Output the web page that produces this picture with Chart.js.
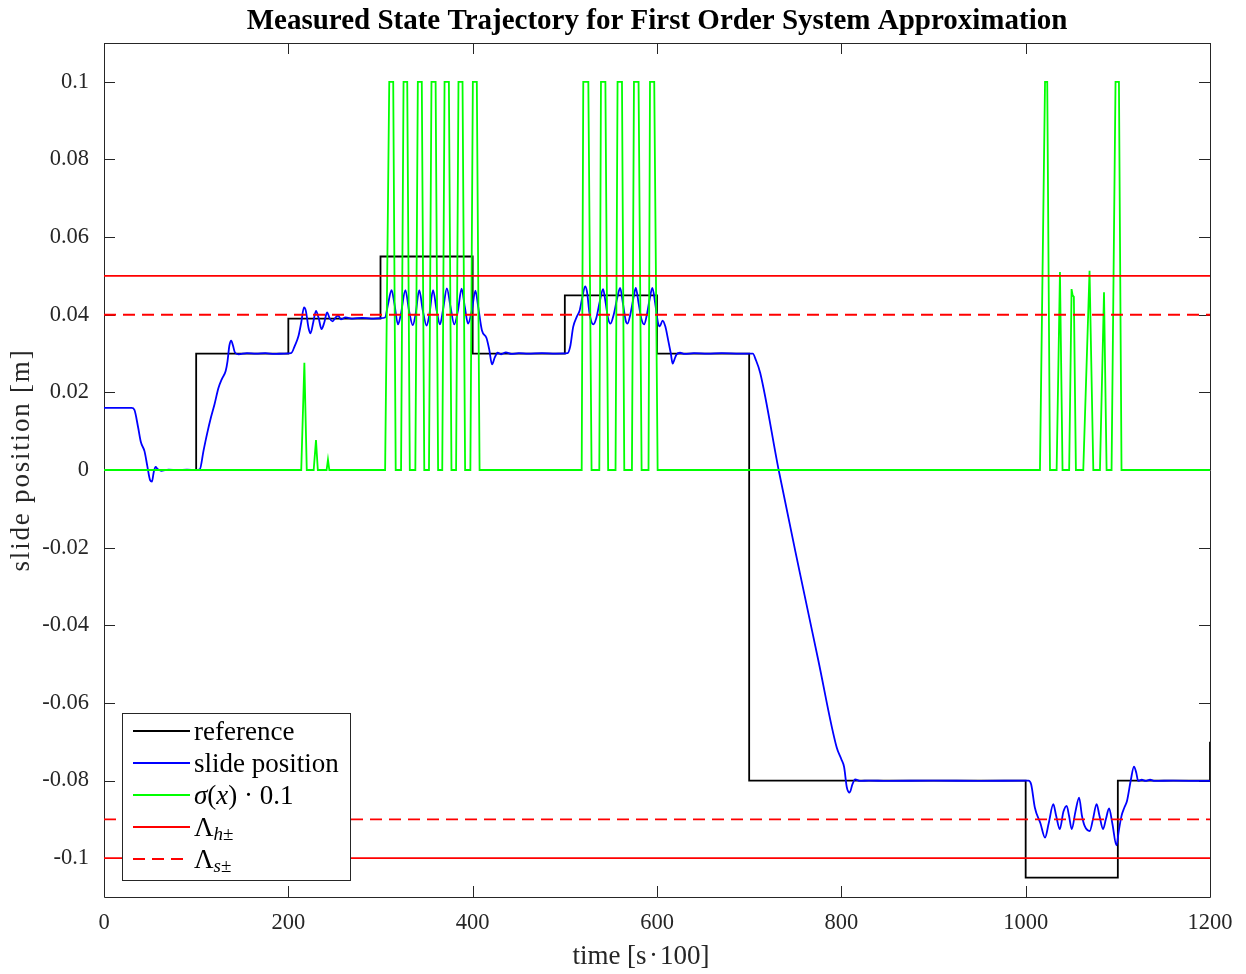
<!DOCTYPE html>
<html>
<head>
<meta charset="utf-8">
<title>Measured State Trajectory</title>
<script src="https://cdn.jsdelivr.net/npm/chart.js@4.4.1/dist/chart.umd.min.js"></script>
<style>
    html, body { margin: 0; padding: 0; background: #fff; }
    #wrap { width: 1246px; height: 974px; }
</style>
</head>
<body>
<div id="wrap"><canvas id="stateChart" width="1246" height="974"></canvas></div>
<script>
// Reference step signal [time, position]
const reference = [
    [0, 0], [100, 0], [100, 0.03], [200, 0.03], [200, 0.039], [300, 0.039],
    [300, 0.055], [400, 0.055], [400, 0.03], [500, 0.03], [500, 0.045], [600, 0.045],
    [600, 0.03], [700, 0.03], [700, -0.08], [1000, -0.08], [1000, -0.105], [1100, -0.105],
    [1100, -0.08], [1200, -0.08], [1200, -0.07]
];

// Measured slide position [time, position]
const slidePosition = [
    [0, 0.016], [30, 0.016], [33, 0.0155], [37, 0.011], [40, 0.0072], [44, 0.0048],
    [47, 0.001], [50, -0.0026], [52, -0.003], [54, -0.0005], [56, 0.0008], [58, 0.0003],
    [62, -0.0002], [70, 0.0001], [80, 0], [90, 0.0001], [100, 0], [104, 0.0002],
    [108, 0.005], [112, 0.0095], [116, 0.0135], [120, 0.017], [124, 0.021], [128, 0.0235],
    [132, 0.0255], [134, 0.028], [136, 0.032], [138, 0.0333], [140, 0.032], [142, 0.0303],
    [146, 0.0298], [155, 0.0301], [165, 0.03], [175, 0.0301], [185, 0.0299], [195, 0.03],
    [203, 0.0301], [207, 0.032], [211, 0.0345], [214, 0.038], [217, 0.0419], [219, 0.041],
    [222, 0.0365], [224, 0.0352], [227, 0.038], [230, 0.041], [233, 0.039], [236, 0.0363],
    [239, 0.038], [242, 0.0406], [245, 0.039], [248, 0.0383], [251, 0.0392], [254, 0.0398],
    [257, 0.0388], [262, 0.0393], [270, 0.039], [280, 0.0392], [290, 0.039], [300, 0.0391],
    [305, 0.0393], [308, 0.0425], [312, 0.0463], [315, 0.043], [319, 0.0375], [322, 0.04],
    [327, 0.0463], [331, 0.041], [335, 0.0373], [338, 0.04], [342, 0.0463], [346, 0.041],
    [350, 0.0372], [353, 0.04], [357, 0.0463], [361, 0.041], [364.5, 0.0375], [368, 0.0415],
    [372, 0.0468], [376, 0.042], [380, 0.0375], [384, 0.041], [388, 0.0467], [391.5, 0.042],
    [395, 0.0377], [399, 0.041], [403, 0.0462], [406, 0.042], [410, 0.036], [415, 0.034],
    [418, 0.031], [421, 0.0272], [424, 0.029], [427, 0.0302], [431, 0.0298], [436, 0.0303],
    [442, 0.0299], [450, 0.0301], [460, 0.03], [475, 0.0301], [490, 0.03], [503, 0.0301],
    [506, 0.032], [509, 0.0368], [513, 0.0395], [516, 0.041], [519, 0.0445], [522, 0.0473],
    [524, 0.046], [527, 0.04], [531, 0.0375], [534, 0.039], [538, 0.0435], [541.5, 0.0466],
    [544, 0.0435], [547, 0.039], [549.5, 0.0377], [553, 0.04], [557, 0.0445], [560, 0.0469],
    [563, 0.043], [566, 0.0385], [568, 0.0377], [571, 0.04], [575, 0.045], [577, 0.0469],
    [580, 0.043], [583, 0.039], [586, 0.0375], [589, 0.04], [592, 0.044], [595, 0.0469],
    [598, 0.043], [601, 0.038], [603, 0.037], [606, 0.0385], [609, 0.037], [612, 0.0336],
    [615, 0.03], [617, 0.0274], [619, 0.0285], [621, 0.0297], [625, 0.0302], [630, 0.0299],
    [640, 0.0301], [655, 0.03], [670, 0.0301], [690, 0.03], [704, 0.03], [707, 0.0285],
    [712, 0.025], [732, 0], [755, -0.0265], [775, -0.049], [795, -0.0715], [800, -0.0745],
    [803, -0.0765], [806, -0.0818], [809, -0.0831], [812, -0.081], [815, -0.0797], [820, -0.0801],
    [830, -0.08], [850, -0.0801], [900, -0.08], [950, -0.0801], [1003, -0.08], [1006, -0.081],
    [1010, -0.087], [1016, -0.091], [1021, -0.0947], [1025, -0.091], [1030, -0.0861], [1033, -0.089],
    [1037, -0.0925], [1041, -0.088], [1044.5, -0.0865], [1047, -0.089], [1050, -0.0925], [1054, -0.088],
    [1058, -0.0844], [1061, -0.089], [1064, -0.0917], [1069.5, -0.093], [1073, -0.09], [1077, -0.0861],
    [1080, -0.089], [1084, -0.0925], [1087, -0.09], [1090.5, -0.0872], [1094, -0.091], [1098.5, -0.0967],
    [1101, -0.093], [1104, -0.0891], [1107, -0.087], [1110, -0.0852], [1114, -0.08], [1117.5, -0.0764],
    [1120, -0.078], [1122, -0.0801], [1126, -0.0798], [1130, -0.0801], [1135, -0.0798], [1140, -0.0801],
    [1160, -0.08], [1200, -0.0801]
];

// Switching function sigma(x) scaled by 0.1 [time, value]
const sigmaScaled = [
    [0, 0], [214, 0], [217.4, 0.0276], [220, 0], [227.5, 0], [230, 0.0077], [232, 0],
    [241.5, 0], [243, 0.0027], [244.5, 0],
    [305, 0], [309.5, 0.1], [313.8, 0.1], [316.5, 0], [322.3, 0], [325, 0.1], [329, 0.1],
    [331.8, 0], [337.8, 0], [340.5, 0.1], [344.8, 0.1], [347.5, 0], [352.6, 0], [355.3, 0.1],
    [359.8, 0.1], [362.5, 0], [367, 0], [369.5, 0.1], [374.2, 0.1], [377, 0], [382, 0],
    [384.6, 0.1], [389, 0.1], [391.8, 0], [397.5, 0], [400.2, 0.1], [404.5, 0.1], [407.5, 0],
    [518.3, 0], [520, 0.1], [525.5, 0.1], [529, 0], [537.4, 0], [539.2, 0.1], [544, 0.1],
    [547, 0], [555, 0], [557.2, 0.1], [562, 0.1], [564.5, 0], [572.8, 0], [575, 0.1],
    [580, 0.1], [583.3, 0], [590.8, 0], [592.4, 0.1], [597, 0.1], [600.7, 0],
    [1015.5, 0], [1021, 0.1], [1023.4, 0.1], [1026.4, 0], [1033.6, 0], [1037.2, 0.051],
    [1040, 0], [1047.2, 0], [1049.8, 0.0466], [1051, 0.045], [1052.3, 0.0446], [1054.5, 0],
    [1062.5, 0], [1069.3, 0.0513], [1073.4, 0], [1080.6, 0], [1085, 0.0458], [1087.8, 0],
    [1093.2, 0], [1097.5, 0.1], [1101.2, 0.1], [1104, 0], [1200, 0]
];

// Hard and soft limits (upper, lower)
const hardLimits = [0.05, -0.1];
const softLimits = [0.04, -0.09];

// Axis ranges and tick values
const timeRange = [0, 1200];
const positionRange = [-0.11, 0.11];
const timeTicks = [0, 200, 400, 600, 800, 1000, 1200];
const positionTicks = [-0.1, -0.08, -0.06, -0.04, -0.02, 0, 0.02, 0.04, 0.06, 0.08, 0.1];

const serif = "'Liberation Serif', 'Times New Roman', serif";
const axisColor = '#262626';

function toPoints(pairs) {
    return pairs.map(([x, y]) => ({ x, y }));
}

function limitLines(levels) {
    const pts = [];
    levels.forEach((level, i) => {
        if (i > 0) pts.push({ x: timeRange[1], y: null });
        pts.push({ x: timeRange[0], y: level }, { x: timeRange[1], y: level });
    });
    return pts;
}

// Title and axis labels, centred on the plot box
const labelsPlugin = {
    id: 'texLabels',
    afterDraw(chart) {
        const { ctx, chartArea: a } = chart;
        const cx = (a.left + a.right) / 2;
        ctx.save();
        ctx.textAlign = 'center';
        ctx.textBaseline = 'middle';

        ctx.fillStyle = '#000';
        ctx.font = 'bold 29px ' + serif;
        ctx.fillText('Measured State Trajectory for First Order System Approximation', cx, 22);

        ctx.fillStyle = axisColor;
        ctx.font = '27px ' + serif;
        ctx.fillText('time [s\u200a·\u200a100]', cx - 16, 957);

        ctx.translate(22, (a.top + a.bottom) / 2 - 10);
        ctx.rotate(-Math.PI / 2);
        ctx.letterSpacing = '1.8px';
        ctx.fillText('slide position [m]', 0, 0);
        ctx.restore();
    }
};

// Box with inward ticks on all four sides (MATLAB style), under the data
const framePlugin = {
    id: 'frame',
    beforeDatasetsDraw(chart) {
        const { ctx, chartArea: a, scales } = chart;
        const len = 11;
        ctx.save();
        ctx.strokeStyle = axisColor;
        ctx.lineWidth = 1;
        ctx.beginPath();
        ctx.rect(a.left + 0.5, a.top + 0.5, a.right - a.left, a.bottom - a.top);
        scales.x.ticks.forEach(t => {
            const px = Math.round(scales.x.getPixelForValue(t.value)) + 0.5;
            ctx.moveTo(px, a.bottom); ctx.lineTo(px, a.bottom - len);
            ctx.moveTo(px, a.top); ctx.lineTo(px, a.top + len);
        });
        scales.y.ticks.forEach(t => {
            const py = Math.round(scales.y.getPixelForValue(t.value)) + 0.5;
            ctx.moveTo(a.left, py); ctx.lineTo(a.left + len, py);
            ctx.moveTo(a.right, py); ctx.lineTo(a.right - len, py);
        });
        ctx.stroke();
        ctx.restore();
    }
};

// Legend with LaTeX-like labels (italics and subscripts)
const legendPlugin = {
    id: 'texLegend',
    afterDraw(chart) {
        const { ctx, chartArea: a } = chart;
        const boxX = a.left + 18, boxY = a.bottom - 184, boxW = 228, boxH = 167;
        const rowH = 32;
        const normal = '27px ' + serif;
        const italic = 'italic 27px ' + serif;
        const sub = '19px ' + serif;
        const subItalic = 'italic 19px ' + serif;
        const labels = [
            [[normal, 'reference', 0]],
            [[normal, 'slide position', 0]],
            [[italic, 'σ', 0], [normal, '(', 0], [italic, 'x', 0], [normal, ') · 0.1', 0]],
            [[normal, 'Λ', 0], [subItalic, 'h', 6], [sub, '±', 6]],
            [[normal, 'Λ', 0], [subItalic, 's', 6], [sub, '±', 6]]
        ];

        ctx.save();
        ctx.fillStyle = '#fff';
        ctx.fillRect(boxX, boxY, boxW, boxH);
        ctx.strokeStyle = axisColor;
        ctx.lineWidth = 1;
        ctx.strokeRect(boxX + 0.5, boxY + 0.5, boxW, boxH);

        chart.data.datasets.forEach((ds, row) => {
            const y = boxY + 18 + row * rowH;
            ctx.beginPath();
            ctx.strokeStyle = ds.borderColor;
            ctx.lineWidth = ds.borderWidth;
            ctx.setLineDash(ds.borderDash || []);
            ctx.moveTo(boxX + 11, y);
            ctx.lineTo(boxX + 68, y);
            ctx.stroke();
            ctx.setLineDash([]);

            let x = boxX + 72;
            ctx.fillStyle = '#000';
            ctx.textBaseline = 'middle';
            labels[row].forEach(([font, text, dy]) => {
                ctx.font = font;
                ctx.fillText(text, x, y + 2 + dy);
                x += ctx.measureText(text).width;
            });
        });
        ctx.restore();
    }
};

new Chart(document.getElementById('stateChart'), {
    type: 'line',
    data: {
        datasets: [
            {
                label: 'reference',
                data: toPoints(reference),
                borderColor: '#000000',
                borderWidth: 1.8,
                order: 5
            },
            {
                label: 'slide position',
                data: toPoints(slidePosition),
                borderColor: '#0000ff',
                borderWidth: 1.8,
                cubicInterpolationMode: 'monotone',
                order: 4
            },
            {
                label: 'sigma(x) 0.1',
                data: toPoints(sigmaScaled),
                borderColor: '#00ff00',
                borderWidth: 1.8,
                order: 3
            },
            {
                label: 'Lambda h',
                data: limitLines(hardLimits),
                borderColor: '#ff0000',
                borderWidth: 1.8,
                spanGaps: false,
                order: 2
            },
            {
                label: 'Lambda s',
                data: limitLines(softLimits),
                borderColor: '#ff0000',
                borderWidth: 1.8,
                borderDash: [12, 7],
                spanGaps: false,
                order: 1
            }
        ]
    },
    options: {
        responsive: false,
        animation: false,
        devicePixelRatio: 1,
        elements: {
            point: { radius: 0, hoverRadius: 0 },
            line: { tension: 0, fill: false }
        },
        layout: { padding: { left: 0, right: 36, top: 43, bottom: 0 } },
        plugins: {
            legend: { display: false },
            tooltip: { enabled: false },
            title: { display: false }
        },
        scales: {
            x: {
                type: 'linear',
                min: timeRange[0],
                max: timeRange[1],
                grid: { display: false, drawTicks: false },
                border: { display: false },
                afterBuildTicks: scale => {
                    scale.ticks = timeTicks.map(value => ({ value }));
                },
                ticks: {
                    color: axisColor,
                    padding: 13,
                    maxRotation: 0,
                    autoSkip: false,
                    font: { family: serif, size: 22.5 },
                    callback: v => String(v)
                },
                afterFit: scale => { scale.height = 77; }
            },
            y: {
                type: 'linear',
                min: positionRange[0],
                max: positionRange[1],
                grid: { display: false, drawTicks: false },
                border: { display: false },
                afterBuildTicks: scale => {
                    scale.ticks = positionTicks.map(value => ({ value }));
                },
                ticks: {
                    color: axisColor,
                    padding: 15,
                    autoSkip: false,
                    font: { family: serif, size: 22.5 },
                    callback: v => String(Number(v.toFixed(2)))
                },
                afterFit: scale => { scale.width = 104; }
            }
        }
    },
    plugins: [framePlugin, labelsPlugin, legendPlugin]
});
</script>
</body>
</html>
